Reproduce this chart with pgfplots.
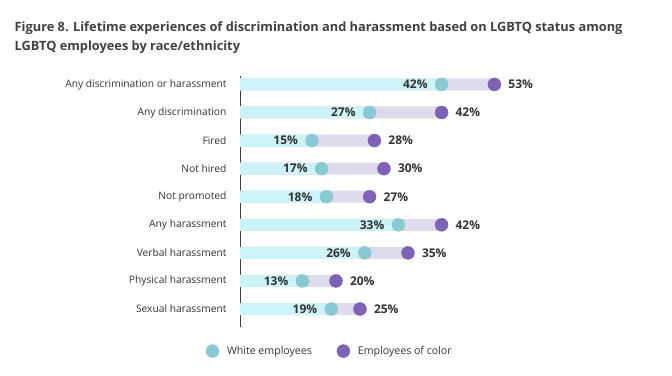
\documentclass[border=0pt]{standalone}
\usepackage{pgfplots}
\pgfplotsset{compat=1.18}
\usepackage{pgfplotstable}
\usepackage{fontspec}
\setmainfont{Open Sans}
\definecolor{barW}{HTML}{CDF2F7}
\definecolor{barC}{HTML}{DFDAEC}
\definecolor{dotW}{HTML}{88C9D3}
\definecolor{dotC}{HTML}{7E63B5}
\definecolor{txt}{HTML}{333333}
\definecolor{ttl}{HTML}{404040}

\pgfplotstableread{
y w c
0 42 53
1 27 42
2 15 28
3 17 30
4 18 27
5 33 42
6 26 35
7 13 20
8 19 25
}\data

\begin{document}
\begin{tikzpicture}
\path (0pt,0pt) rectangle (672pt,375pt);
\node[anchor=base west, inner sep=0pt, font=\bfseries\fontsize{12.8}{15}\selectfont, text=ttl] at (14.5pt,343pt) {Figure 8. Lifetime experiences of discrimination and harassment based on LGBTQ status among};
\node[anchor=base west, inner sep=0pt, font=\bfseries\fontsize{12.8}{15}\selectfont, text=ttl] at (14.5pt,324.3pt) {LGBTQ employees by race/ethnicity};
\begin{axis}[
  at={(240pt,48pt)}, anchor=south west,
  scale only axis, width=384pt, height=251pt,
  xmin=0, xmax=80, ymin=-0.3, ymax=8.64, y dir=reverse,
  axis x line=none, axis y line=left,
  y axis line style={-, draw=black!75, line width=0.8pt},
  ytick={0,...,8}, major tick length=0pt,
  yticklabels={Any discrimination or harassment, Any discrimination, Fired, Not hired, Not promoted, Any harassment, Verbal harassment, Physical harassment, Sexual harassment},
  yticklabel style={font=\fontsize{10.25}{12}\selectfont, text=txt, xshift=-10pt},
  /pgf/number format/assume math mode=true,
  clip=false,
  legend style={at={(rel axis cs:0.234,-0.096)}, anchor=center, draw=none, fill=none, font=\fontsize{10.6}{12}\selectfont, text=txt, legend cell align=left},
  legend columns=2,
  /tikz/every odd column/.append style={column sep=6pt},
  /tikz/every even column/.append style={column sep=23pt},
]
\addplot[xbar, bar width=12pt, bar shift=0pt, draw=none, fill=barC, forget plot] table[x=c, y=y] {\data};
\addplot[xbar, bar width=12pt, bar shift=0pt, draw=none, fill=barW, forget plot] table[x=w, y=y] {\data};
\addplot[color=dotW, only marks, mark=*, mark size=6.5pt, mark options={draw=dotW, fill=dotW}, point meta=x,
  nodes near coords={\pgfmathprintnumber{\pgfplotspointmeta}\%},
  every node near coord/.append style={anchor=east, xshift=-10.5pt, yshift=0pt, font=\bfseries\fontsize{12}{14}\selectfont, text=txt}]
  table[x=w, y=y] {\data};
\addlegendentry{White employees}
\addplot[color=dotC, only marks, mark=*, mark size=6.5pt, mark options={draw=dotC, fill=dotC}, point meta=x,
  nodes near coords={\pgfmathprintnumber{\pgfplotspointmeta}\%},
  every node near coord/.append style={anchor=west, xshift=10.5pt, yshift=0pt, font=\bfseries\fontsize{12}{14}\selectfont, text=txt}]
  table[x=c, y=y] {\data};
\addlegendentry{Employees of color}
\end{axis}
\end{tikzpicture}
\end{document}
